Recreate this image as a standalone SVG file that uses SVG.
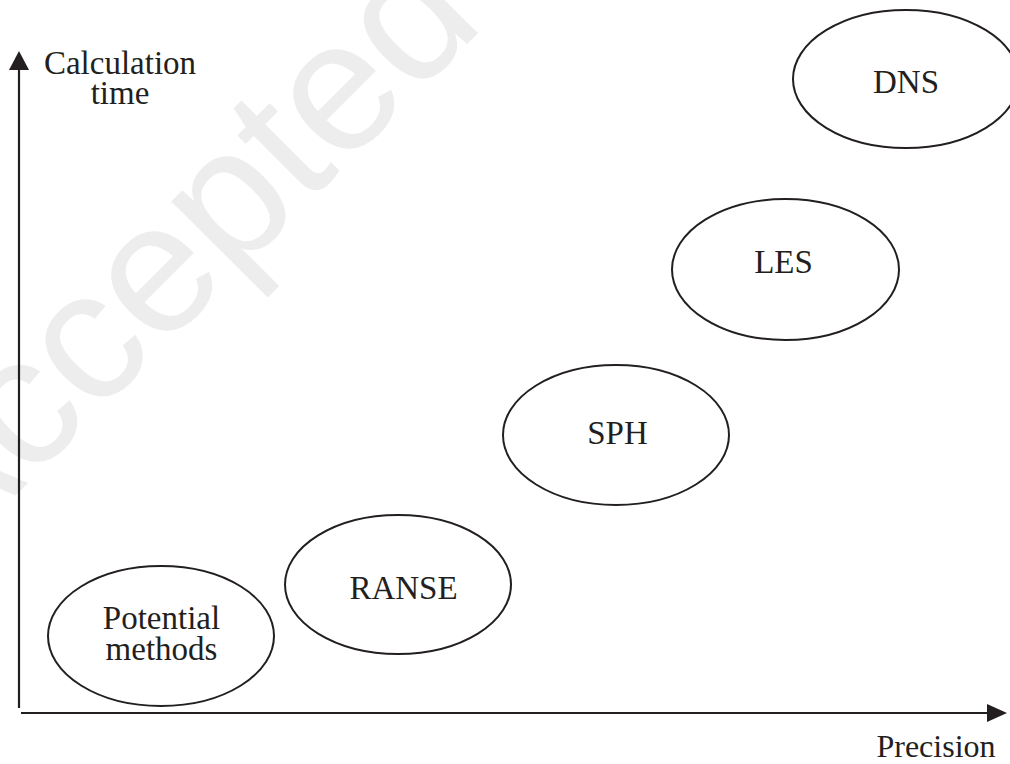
<svg xmlns="http://www.w3.org/2000/svg" width="1010" height="764" viewBox="0 0 1010 764">
<defs>
<style>
.lbl{font-family:"Liberation Serif","Times New Roman",serif;font-size:33px;fill:#231f20;text-anchor:middle}
.node ellipse{fill:none;stroke:#231f20;stroke-width:2}
.axis{stroke:#231f20;stroke-width:2.2;fill:none}
.wm{font-family:"Liberation Sans",Arial,sans-serif;font-size:185px;fill:#ededed}
</style>
</defs>
<rect width="1010" height="764" fill="#fff"/>
<text class="wm" transform="translate(-59,570) rotate(-45)">Accepted</text>
<g id="connectors">
<path class="axis" d="M19,708 V70"/>
<path d="M9,70 L19,51 L29,70 Z" fill="#231f20"/>
<path class="axis" d="M21,713 H988"/>
<path d="M987,704 L1007,713 L987,722 Z" fill="#231f20"/>
</g>
<g id="axis-labels">
<text class="lbl" x="120" y="74">Calculation</text>
<text class="lbl" x="120" y="104">time</text>
<text class="lbl" x="936" y="757" style="font-size:32px">Precision</text>
</g>
<g id="potential" class="node">
<ellipse cx="161" cy="636" rx="113" ry="70"/>
<text class="lbl" x="161.5" y="629">Potential</text>
<text class="lbl" x="161.5" y="660">methods</text>
</g>
<g id="ranse" class="node">
<ellipse cx="398" cy="584.5" rx="113" ry="69.5"/>
<text class="lbl" x="403.5" y="599">RANSE</text>
</g>
<g id="sph" class="node">
<ellipse cx="616" cy="435" rx="113" ry="70"/>
<text class="lbl" x="617.5" y="444">SPH</text>
</g>
<g id="les" class="node">
<ellipse cx="785.5" cy="269.5" rx="113.5" ry="70.5"/>
<text class="lbl" x="783.5" y="273">LES</text>
</g>
<g id="dns" class="node">
<ellipse cx="906" cy="79" rx="113" ry="69"/>
<text class="lbl" x="906" y="93">DNS</text>
</g>
</svg>
